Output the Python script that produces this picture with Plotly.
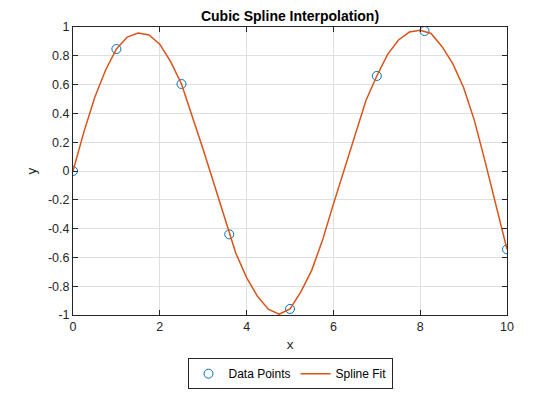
import plotly.graph_objects as go

x_data = [0, 1, 2.5, 3.6, 5, 7, 8.1, 10]
y_data = [0, 0.847, 0.604, -0.44, -0.958, 0.66, 0.972, -0.544]

x_fit = [0, 0.25, 0.5, 0.75, 1, 1.25, 1.5, 1.75, 2, 2.25, 2.5, 2.75, 3, 3.25, 3.5,
         3.75, 4, 4.25, 4.5, 4.75, 5, 5.25, 5.5, 5.75, 6, 6.25, 6.5, 6.75, 7, 7.25,
         7.5, 7.75, 8, 8.25, 8.5, 8.75, 9, 9.25, 9.5, 9.75, 10]
y_fit = [0, 0.27, 0.51, 0.70, 0.847, 0.93, 0.958, 0.945, 0.88, 0.76, 0.604, 0.38, 0.15,
         -0.09, -0.33, -0.57, -0.74, -0.87, -0.96, -0.995, -0.958, -0.84, -0.69, -0.48,
         -0.23, 0.01, 0.25, 0.49, 0.66, 0.81, 0.91, 0.965, 0.978, 0.955, 0.865, 0.745,
         0.58, 0.35, 0.06, -0.25, -0.544]

y_ticks = [-1, -0.8, -0.6, -0.4, -0.2, 0, 0.2, 0.4, 0.6, 0.8, 1]
y_tick_text = ["-1", "-0.8", "-0.6", "-0.4", "-0.2", "0", "0.2", "0.4", "0.6", "0.8", "1"]
x_ticks = [0, 2, 4, 6, 8, 10]

font_family = "Liberation Sans, Arial, sans-serif"

fig = go.Figure()
fig.add_trace(go.Scatter(
    x=x_data, y=y_data, mode="markers", name="Data Points",
    marker=dict(symbol="circle-open", size=9, color="#0072BD", line=dict(width=1)),
))
fig.add_trace(go.Scatter(
    x=x_fit, y=y_fit, mode="lines", name="Spline Fit",
    line=dict(color="#D95319", width=1.5),
))

axis_common = dict(
    showline=True, linecolor="#262626", linewidth=1, mirror="ticks",
    ticks="inside", ticklen=5, tickcolor="#262626",
    showgrid=True, gridcolor="#DFDFDF", gridwidth=1,
    zeroline=False,
    tickfont=dict(family=font_family, size=12.5, color="#262626"),
)

fig.update_layout(
    width=560, height=420,
    margin=dict(l=65, r=61, t=19, b=113),
    paper_bgcolor="white", plot_bgcolor="white",
    font=dict(family=font_family, color="#262626"),
    title=dict(text="<b>Cubic Spline Interpolation)</b>", x=0.5, xref="paper",
               y=1 - 8 / 420, yref="container", yanchor="middle",
               font=dict(family=font_family, size=14, color="#000000")),
    showlegend=True,
    legend=dict(orientation="h", x=0.5, xanchor="center", y=-0.15, yanchor="top",
                bordercolor="#262626", borderwidth=1, bgcolor="white",
                font=dict(family=font_family, size=12, color="#000000"),
                itemwidth=30, tracegroupgap=0),
)
fig.update_xaxes(range=[0, 10], tickvals=x_ticks,
                 title=dict(text="x", standoff=6,
                            font=dict(family=font_family, size=13.5, color="#262626")),
                 **axis_common)
fig.update_yaxes(range=[-1, 1], tickvals=y_ticks, ticktext=y_tick_text,
                 title=dict(text="y", standoff=8,
                            font=dict(family=font_family, size=13.5, color="#262626")),
                 **axis_common)

fig.write_html("out.html")
